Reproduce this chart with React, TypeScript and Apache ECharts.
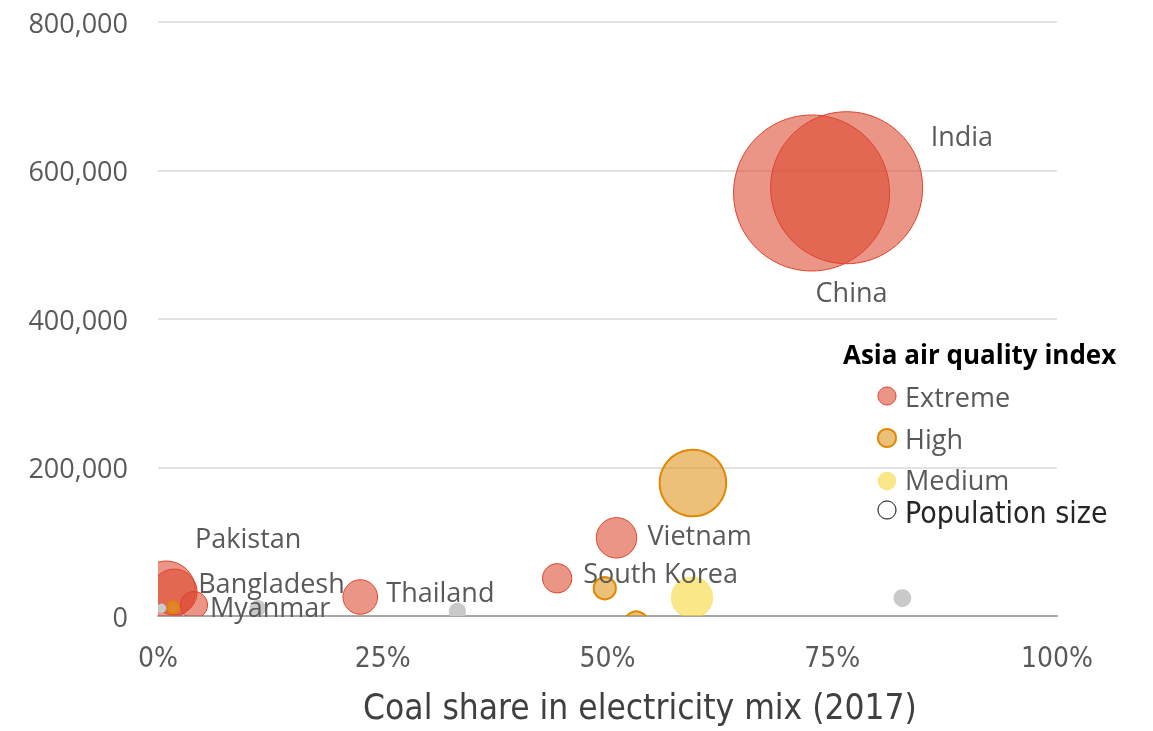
import React, { useEffect, useRef } from "react";
import * as echarts from "echarts";

// ---- Data ----
const countries = [
  "China", "India", "Indonesia", "Vietnam", "South Korea", "Malaysia", "Taiwan",
  "Philippines", "Thailand", "Pakistan", "Bangladesh", "Myanmar", "Singapore",
  "Unrated 1", "Unrated 2", "Unrated 3", "Unrated 4",
];
const coalShare = [72.7, 76.6, 59.5, 51.0, 44.4, 49.7, 53.2, 59.4, 22.5, 0.9, 1.8, 4.0, 1.7, 0.4, 11.1, 33.3, 82.8];
const yValues = [569700, 576800, 179100, 105300, 50800, 37300, -10000, 24900, 25600, 34600, 32300, 14800, 11700, 10400, 10800, 6100, 24200];
const population = [1390, 1320, 253, 93, 49, 28, 33, 99, 68, 196, 120, 42, 7, 5, 15, 17, 18];
const airQuality = ["Extreme", "Extreme", "High", "Extreme", "Extreme", "High", "High", "Medium", "Extreme", "Extreme", "Extreme", "Extreme", "High", "None", "None", "None", "None"];
const labelled = ["China", "India", "Vietnam", "South Korea", "Thailand", "Pakistan", "Bangladesh", "Myanmar"];

const categories = ["Extreme", "High", "Medium"];
const xTicks = [0, 25, 50, 75, 100];
const yTicks = [0, 200000, 400000, 600000, 800000];

// ---- Layout / style config (not data) ----
const labelOffsets: Record<string, [number, number]> = {
  China: [4, 99],
  India: [84, -52],
  Vietnam: [31, -3],
  "South Korea": [26, -6],
  Thailand: [26, -5],
  Pakistan: [29, -53],
  Bangladesh: [24, -10],
  Myanmar: [16, 1],
};
const styles: Record<string, { fill: string; stroke: string; lineWidth: number }> = {
  Extreme: { fill: "rgba(221,72,48,0.58)", stroke: "#dd4128", lineWidth: 1 },
  High: { fill: "rgba(224,150,32,0.6)", stroke: "#e08800", lineWidth: 2 },
  Medium: { fill: "rgba(247,214,50,0.58)", stroke: "rgba(247,214,50,0.3)", lineWidth: 1 },
  None: { fill: "#c9c9c9", stroke: "#c9c9c9", lineWidth: 0 },
};
const SIZE_K = 4.184; // diameter px per sqrt(million people)
const LABEL_FONT = "'Open Sans', 'Noto Sans', sans-serif";
const NARROW_FONT = "'DejaVu Sans Condensed', 'Liberation Sans', sans-serif";
const TEXT_COLOR = "#595959";

export default function App() {
  const ref = useRef<HTMLDivElement>(null);

  useEffect(() => {
    document.body.style.margin = "0";
    if (!ref.current) return;
    const chart = echarts.init(ref.current, null, { renderer: "svg" });

    const bubbleData = countries.map((c, i) => [coalShare[i], yValues[i], population[i], i]);
    const labelData = countries
      .map((c, i) => ({ c, i }))
      .filter((d) => labelled.includes(d.c))
      .map((d) => [coalShare[d.i], yValues[d.i], d.i]);

    const legendTop = 396;
    const legendGap = 42;
    const legendItems: any[] = [
      {
        type: "text",
        left: 843,
        top: 341,
        style: { text: "Asia air quality index", font: `bold 26px ${LABEL_FONT}`, fill: "#000" },
      },
    ];
    categories.forEach((cat, k) => {
      const y = legendTop + k * legendGap;
      legendItems.push({
        type: "circle",
        shape: { cx: 887, cy: y + (k === 2 ? 1 : 0), r: 9 },
        style: { fill: styles[cat].fill, stroke: styles[cat].stroke, lineWidth: cat === "High" ? 2 : 1 },
      });
      legendItems.push({
        type: "text",
        x: 905,
        y: y - (k === 2 ? 1 : 0),
        style: { text: cat, font: `27px ${LABEL_FONT}`, fill: TEXT_COLOR, verticalAlign: "middle" },
      });
    });
    legendItems.push({
      type: "circle",
      shape: { cx: 887, cy: 510, r: 9 },
      style: { fill: "#fff", stroke: "#000", lineWidth: 1 },
    });
    legendItems.push({
      type: "text",
      x: 905,
      y: 512,
      style: { text: "Population size", font: `30px ${NARROW_FONT}`, fill: "#262626", verticalAlign: "middle" },
    });
    legendItems.push({
      type: "text",
      x: 640,
      y: 707,
      style: {
        text: "Coal share in electricity mix (2017)",
        font: `35px ${NARROW_FONT}`,
        fill: "#404040",
        align: "center",
        verticalAlign: "middle",
      },
    });

    chart.setOption({
      animation: false,
      grid: { left: 158, right: 96, top: 22, bottom: 115, containLabel: false },
      xAxis: {
        type: "value",
        min: xTicks[0],
        max: xTicks[xTicks.length - 1],
        interval: xTicks[1] - xTicks[0],
        axisLine: { show: true, onZero: false, lineStyle: { color: "#a6a6a6", width: 2 } },
        axisTick: { show: false },
        splitLine: { show: false },
        axisLabel: {
          formatter: "{value}%",
          color: TEXT_COLOR,
          fontFamily: NARROW_FONT,
          fontSize: 28,
          margin: 27,
        },
      },
      yAxis: {
        type: "value",
        min: yTicks[0],
        max: yTicks[yTicks.length - 1],
        interval: yTicks[1] - yTicks[0],
        axisLine: { show: false },
        axisTick: { show: false },
        splitLine: { lineStyle: { color: "#d9d9d9", width: 1.5 } },
        axisLabel: {
          formatter: (v: number) => v.toLocaleString("en-US"),
          color: TEXT_COLOR,
          fontFamily: LABEL_FONT,
          fontSize: 27,
          margin: 30,
        },
      },
      series: [
        {
          type: "custom",
          name: "bubbles",
          clip: true,
          data: bubbleData,
          renderItem: (params: any, api: any) => {
            const pt = api.coord([api.value(0), api.value(1)]);
            const r = (SIZE_K * Math.sqrt(api.value(2))) / 2;
            const cat = airQuality[api.value(3)];
            const s = styles[cat];
            return {
              type: "circle",
              shape: { cx: pt[0], cy: pt[1], r },
              style: { fill: s.fill, stroke: s.lineWidth ? s.stroke : null, lineWidth: s.lineWidth },
            };
          },
        },
        {
          type: "custom",
          name: "labels",
          clip: false,
          silent: true,
          data: labelData,
          renderItem: (params: any, api: any) => {
            const pt = api.coord([api.value(0), api.value(1)]);
            const name = countries[api.value(2)];
            const off = labelOffsets[name] || [0, 0];
            return {
              type: "text",
              x: pt[0] + off[0],
              y: pt[1] + off[1],
              style: {
                text: name,
                font: `27px ${LABEL_FONT}`,
                fill: TEXT_COLOR,
                verticalAlign: "middle",
              },
            };
          },
        },
      ],
      graphic: legendItems,
    });

    return () => chart.dispose();
  }, []);

  return <div ref={ref} style={{ position: "fixed", left: 0, top: 0, width: 1153, height: 731 }} />;
}
